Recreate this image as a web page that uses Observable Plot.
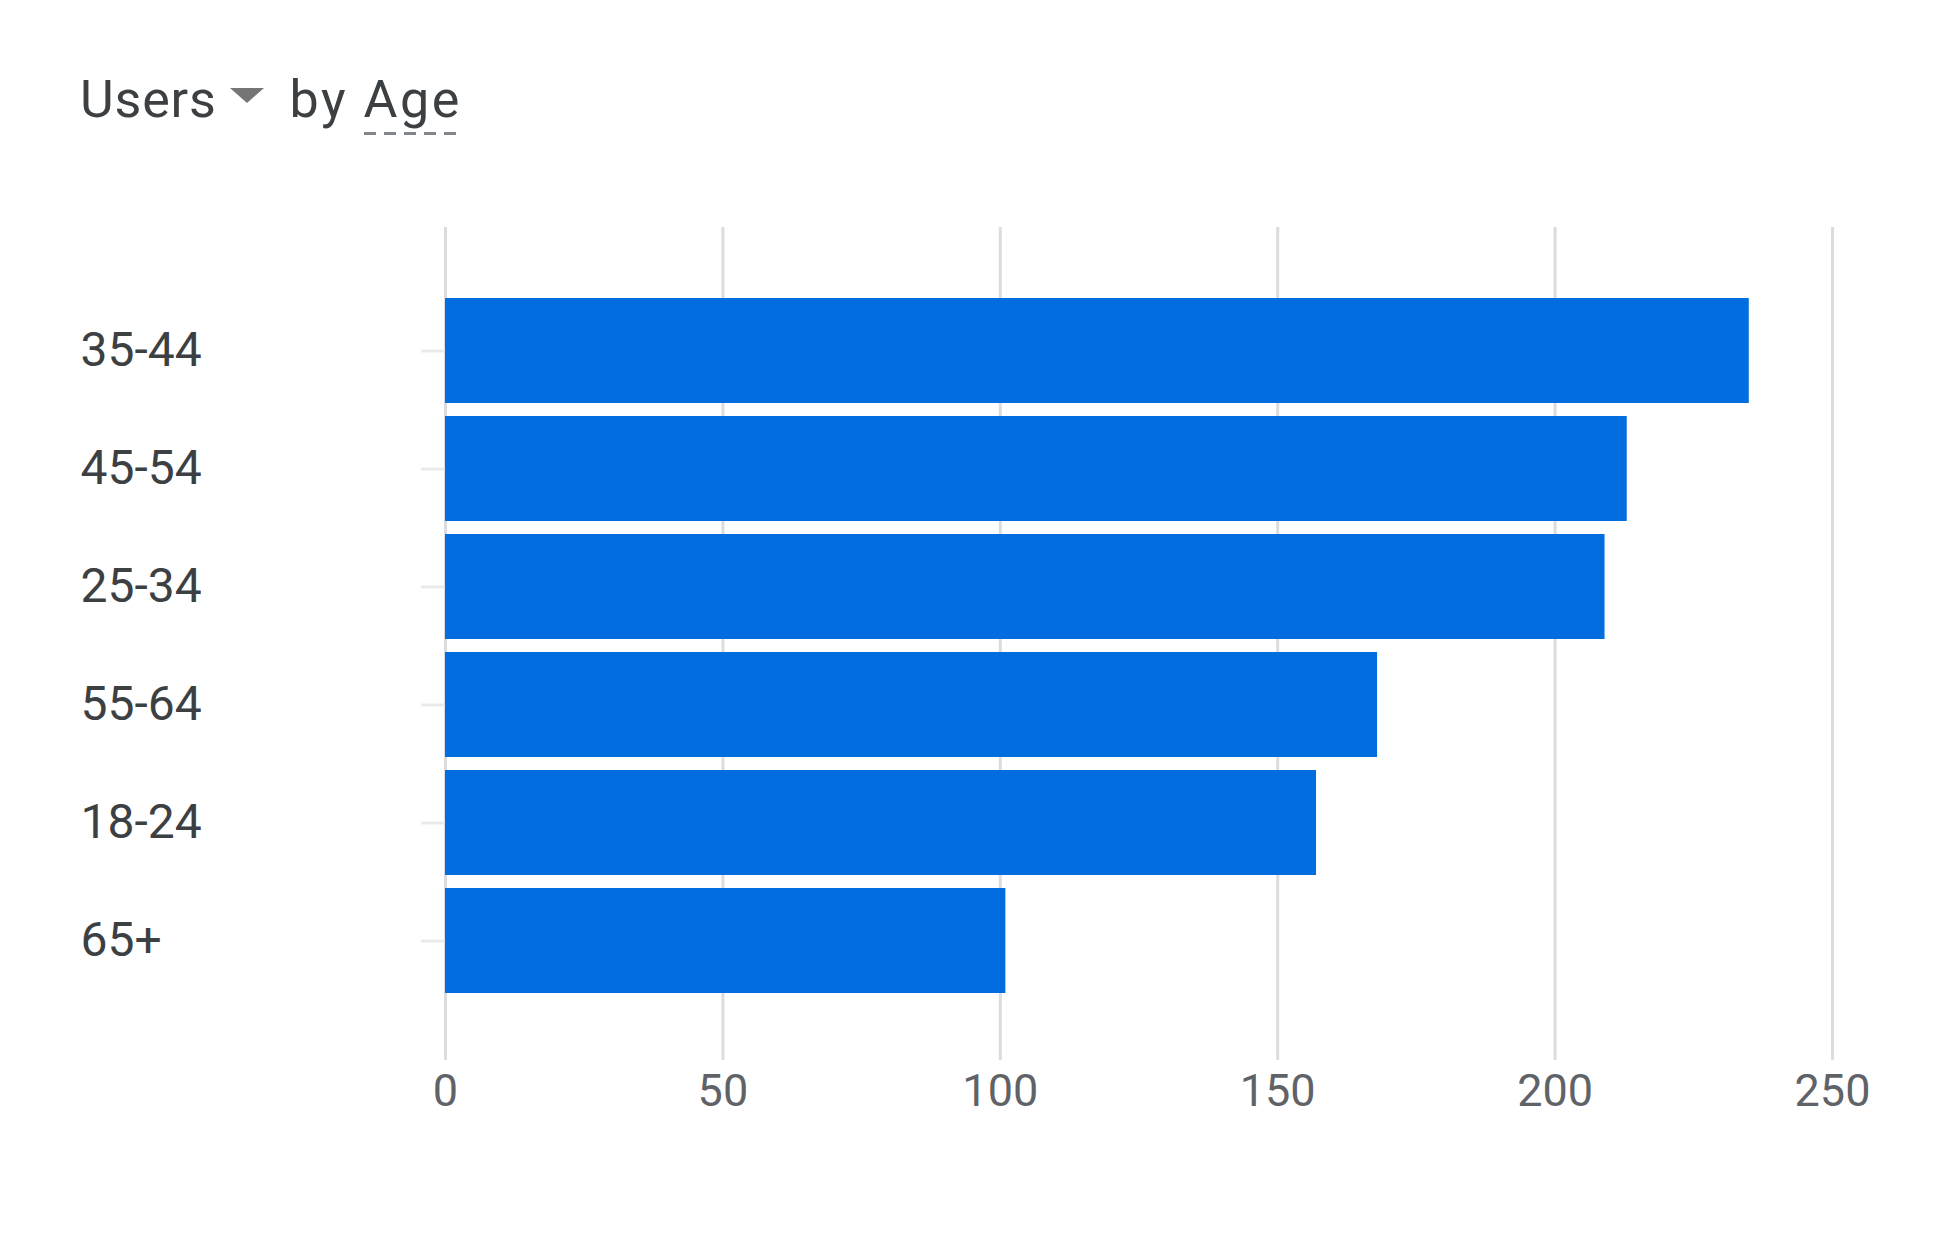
<!DOCTYPE html>
<html>
<head>
<meta charset="utf-8">
<script src="https://cdn.jsdelivr.net/npm/d3@7"></script>
<script src="https://cdn.jsdelivr.net/npm/@observablehq/plot@0.6"></script>
<style>
  html, body { margin: 0; padding: 0; background: #fff; }
  #wrap { position: relative; width: 1947px; height: 1243px; overflow: hidden; background: #fff; }
  #title { position: absolute; left: 80px; top: 74px; font-family: Roboto, sans-serif; font-size: 52px; line-height: 52px; color: #3c4043; white-space: nowrap; letter-spacing: 0.8px; }
  #title .tri { display: inline-block; width: 0; height: 0; border-left: 17px solid transparent; border-right: 17px solid transparent; border-top: 15px solid #757575; margin-left: 13px; margin-right: 26px; vertical-align: 14px; }
  #title .by { letter-spacing: 2.5px; }
  #title .dim { padding-bottom: 5px; background: repeating-linear-gradient(to right, #80868b 0 12px, transparent 12px 20px) no-repeat left bottom / 100% 3px; }
  #chart { position: absolute; left: 0; top: 170px; }
</style>
</head>
<body>
<div id="wrap">
  <div id="title">Users<span class="tri"></span><span class="by">by <span class="dim">Age</span></span></div>
  <div id="chart"></div>
</div>
<script>
const ages = ["35-44", "45-54", "25-34", "55-64", "18-24", "65+"];
const users = [235, 213, 209, 168, 157, 101];
const xTicks = [0, 50, 100, 150, 200, 250];

const data = ages.map((a, i) => ({age: a, users: users[i]}));

const chart = Plot.plot({
  width: 1947,
  height: 1073,
  marginTop: 57,
  marginBottom: 183,
  marginLeft: 445,
  marginRight: 115,
  style: {fontFamily: "Roboto, sans-serif", background: "white"},
  x: {domain: [0, 250], label: null},
  y: {domain: ages, paddingInner: 0.106, paddingOuter: 0.053, insetTop: 63, insetBottom: 58, label: null},
  marks: [
    Plot.gridX(xTicks, {stroke: "#dadce0", strokeOpacity: 1, strokeWidth: 3}),
    Plot.barX(data, {x: "users", y: "age", fill: "#016ddf"}),
    Plot.axisX(xTicks, {tickSize: 0, tickPadding: 14, fontSize: 45, fill: "#5f6368", label: null}),
    Plot.axisY({tickSize: 24, tickFormat: () => "", stroke: "#e8eaed", strokeWidth: 3, label: null}),
    Plot.axisY({tickSize: 0, tickPadding: 365, textAnchor: "start", fontSize: 48, fill: "#3c4043", label: null})
  ]
});
document.getElementById("chart").appendChild(chart);
</script>
</body>
</html>
